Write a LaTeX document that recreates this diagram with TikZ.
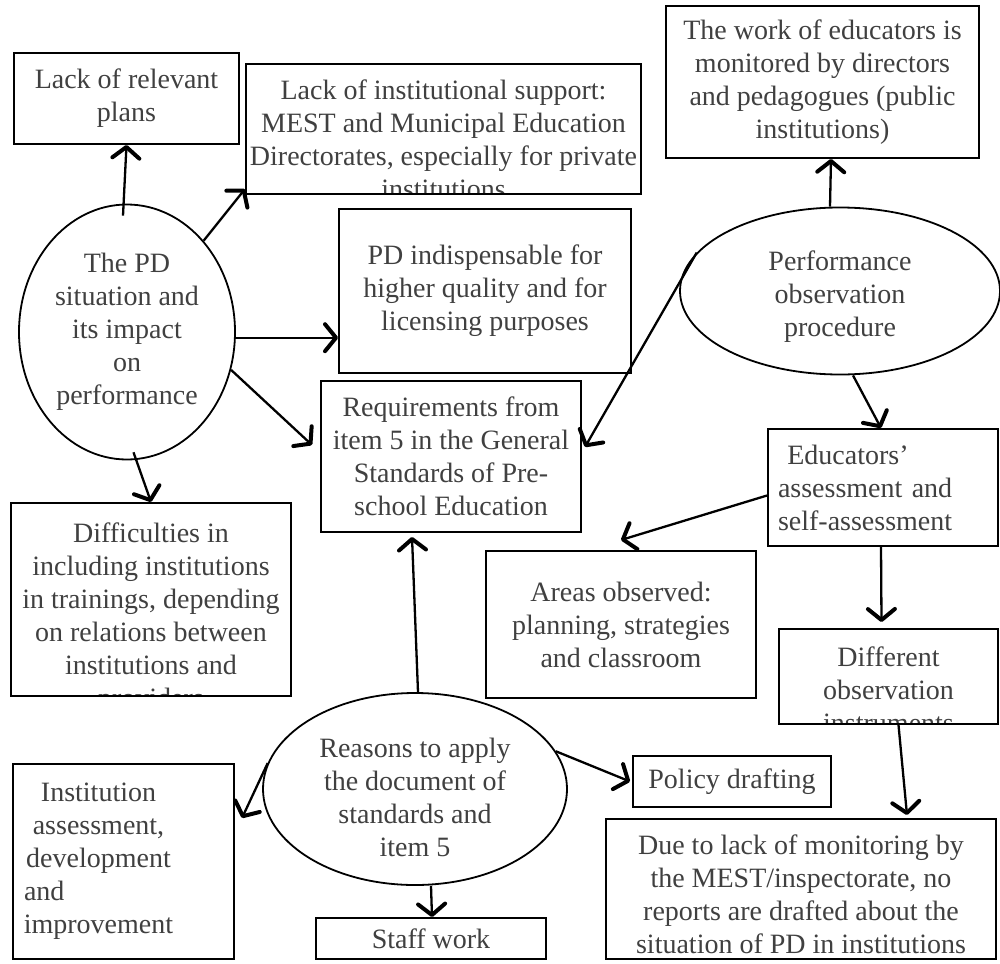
\documentclass[tikz,border=0pt]{standalone}
\usepackage{fontspec}
\setmainfont{Liberation Serif}
\usetikzlibrary{arrows.meta,shapes.geometric,calc}
\definecolor{txtgray}{HTML}{404040}
\begin{document}
\begin{tikzpicture}[x=1pt,y=-1pt,
  lbl/.style={text=txtgray,align=center,font=\fontsize{28}{33}\selectfont},
  box/.style={lbl,draw=black,line width=2pt,fill=white,inner sep=0pt,anchor=north west},
  cliptxt/.style={lbl,draw=none,fill=none,inner sep=0pt,anchor=center},
  oval/.style={draw=black,line width=1.8pt,ellipse,inner sep=0pt},
  arr/.style={line width=2.3pt,-{Straight Barb[length=11pt,width=27pt,line width=4pt,round]}}
]
\useasboundingbox (0,0) rectangle (1000,963);
\fill[white] (0,0) rectangle (1000,963);

% boxes
\node[box,minimum width=225pt,minimum height=91pt] (A) at (13,52) {Lack of relevant\\plans};
\node[box,minimum width=395pt,minimum height=130pt,
  path picture={\node[cliptxt] at ([yshift=-10pt]path picture bounding box.center)
  {Lack of institutional support:\\MEST and Municipal Education\\Directorates, especially for private\\institutions};}] (B) at (245,63) {};
\node[box,minimum width=313pt,minimum height=152pt] (G) at (665,5) {The work of educators is\\monitored by directors\\and pedagogues (public\\institutions)};
\node[box,minimum width=292pt,minimum height=164pt] (C) at (338,208) {PD indispensable for\\higher quality and for\\licensing purposes};
\node[box,minimum width=260pt,minimum height=151pt] (D) at (320,380) {Requirements from\\item 5 in the General\\Standards of Pre-\\school Education};
\node[box,minimum width=280pt,minimum height=193pt,
  path picture={\node[cliptxt] at ([yshift=-19pt]path picture bounding box.center)
  {Difficulties in\\including institutions\\in trainings, depending\\on relations between\\institutions and\\providers};}] (E) at (10,502) {};
\node[box,minimum width=270pt,minimum height=147pt] (I) at (485,550) {Areas observed:\\planning, strategies\\and classroom};
\node[box,align=left,text width=210pt,inner xsep=10pt,minimum height=117pt] (H) at (767,428) {\ Educators’\\assessment and\\self-assessment};
\node[box,minimum width=219pt,minimum height=95pt,
  path picture={\node[cliptxt] at ([yshift=-13pt]path picture bounding box.center)
  {Different\\observation\\instruments};}] (J) at (778,628) {};
\node[box,minimum width=390pt,minimum height=140pt,
  path picture={\node[cliptxt] at ([yshift=-5pt]path picture bounding box.center)
  {Due to lack of monitoring by\\the MEST/inspectorate, no\\reports are drafted about the\\situation of PD in institutions};}] (K) at (605,818) {};
\node[box,minimum width=198pt,minimum height=51pt] (M) at (632,755) {Policy drafting};
\node[box,minimum width=230pt,minimum height=41pt] (N) at (315,917) {Staff work};
\node[box,minimum width=221pt,minimum height=195pt,
  path picture={\node[cliptxt] at ([xshift=-25pt]path picture bounding box.center)
  {Institution\\assessment,\\development\\\makebox[149pt][l]{and}\\improvement};}] (O) at (12,763) {};

% ellipses
\node[oval,minimum width=216pt,minimum height=255pt] (pd) at (127,332) {};
\node[lbl] (pdt) at (pd.center) {The PD\\situation and\\its impact\\on\\performance};
\node[oval,minimum width=320pt,minimum height=167pt] (F) at (840,291) {};
\node[lbl] (Ft) at ([yshift=-6pt]F.center) {Performance\\observation\\procedure};
\node[oval,minimum width=304pt,minimum height=192pt] (L) at (415,789) {};
\node[lbl] (Lt) at ([yshift=-8pt]L.center) {Reasons to apply\\the document of\\standards and\\item 5};

% connectors
\draw[arr] ([xshift=-4pt,yshift=-12pt]pd.north) -- (A.south);
\draw[arr] (pd.50) -- ([yshift=6pt]B.south west);
\draw[arr] (pd.-3) -- (pd.-3 -| C.west);
\draw[arr] (pd.-20) -- ($(D.north west)+(-8,65)$);
\draw[arr] ([xshift=2pt,yshift=8pt]pd.-88) -- (E.north);
\draw[arr] ([xshift=-10pt]F.north) -- ([xshift=8.5pt]G.south);
\draw[arr] ([xshift=13pt]F.south) -- ([xshift=-2pt]H.north);
\draw[arr] (F.165) -- ($(D.north east)+(3,67)$);
\draw[arr] ([yshift=-8pt]H.west) -- ([yshift=10pt]I.north);
\draw[arr] ([xshift=-2pt]H.south) -- ([xshift=-7pt,yshift=6pt]J.north);
\draw[arr] ([xshift=10pt]J.south) -- ($(K.north east)+(-90,-3)$);
\draw[arr] ([xshift=3pt]L.north) -- ($(D.south west)+(92,4)$);
\draw[arr] (L.15) -- ([xshift=-2pt]M.west);
\draw[arr] ([xshift=16pt]L.south) -- ([xshift=1pt]N.north);
\draw[arr] (L.170) -- ($(O.north east)+(7,55)$);
\end{tikzpicture}
\end{document}
